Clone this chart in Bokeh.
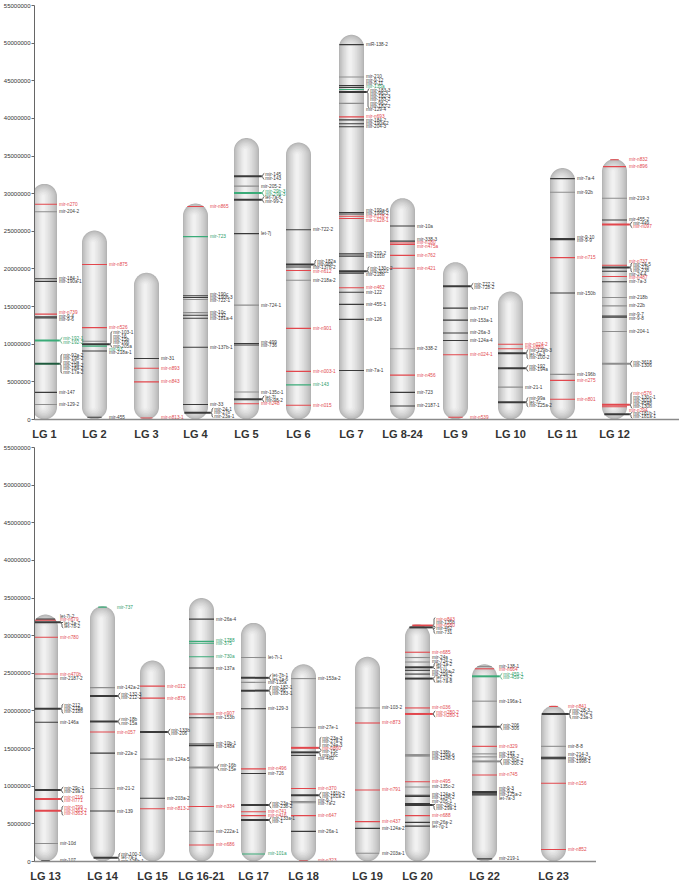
import numpy as np
from bokeh.plotting import figure
from bokeh.models import Range1d, FixedTicker, NumeralTickFormatter, ColumnDataSource
from bokeh.layouts import column
from bokeh.embed import file_html
from bokeh.resources import INLINE
from bokeh.core.properties import value

# ---------------- data (positions in Mb) ----------------
TOP_NAMES = ["LG 1", "LG 2", "LG 3", "LG 4", "LG 5", "LG 6", "LG 7", "LG 8-24", "LG 9", "LG 10", "LG 11", "LG 12"]
TOP_LENGTHS = [31.3, 25.1, 19.5, 28.7, 37.4, 36.8, 51.1, 29.4, 20.9, 17.0, 33.4, 34.6]
BOTTOM_NAMES = ["LG 13", "LG 14", "LG 15", "LG 16-21", "LG 17", "LG 18", "LG 19", "LG 20", "LG 22", "LG 23"]
BOTTOM_LENGTHS = [32.8, 33.9, 26.7, 35.0, 31.7, 26.2, 27.2, 31.5, 26.2, 20.7]
Y_TICKS = [0, 5000000, 10000000, 15000000, 20000000, 25000000, 30000000,
           35000000, 40000000, 45000000, 50000000, 55000000]

LG1_POS = [28.6, 27.6, 18.7, 18.35, 14.0, 13.65, 13.5, 10.5, 7.4, 3.6, 2.0]
LG1_COL = ["r", "g", "k", "k", "r", "k", "k", "e", "d", "k", "g"]
LG1_MIR = ["mir-n270", "mir-204-2", "mir-184-1", "mir-190a-1", "mir-n739", "mir-9-4", "mir-9-6",
           "mir-192-1/mir-192-2", "mir-92a-2/mir-19b-2/mir-20a/mir-19a-2/mir-18a-2/mir-17a-2",
           "mir-147", "mir-129-2"]

LG2_POS = [20.6, 12.2, 10.4, 10.0, 9.75, 9.1, 0.3]
LG2_COL = ["r", "r", "g", "k", "e", "k", "k"]
LG2_MIR = ["mir-n875", "mir-n526", "", "mir-103-1/mir-16/mir-15b/mir-16b/mir-205a", "mir-93",
           "mir-218a-1", "mir-455"]

LG3_POS = [8.1, 6.8, 5.0, 0.2]
LG3_COL = ["k", "r", "r", "r"]
LG3_MIR = ["mir-31", "mir-n893", "mir-n843", "mir-n813-1"]

LG4_POS = [28.3, 24.3, 16.45, 16.2, 15.95, 14.2, 13.85, 13.45, 9.6, 2.0, 0.9]
LG4_COL = ["r", "e", "k", "k", "g", "g", "k", "k", "k", "k", "k"]
LG4_MIR = ["mir-n865", "mir-723", "mir-190c", "mir-190b-3", "mir-722-1", "mir-10c", "mir-132",
           "mir-181a-4", "mir-137b-1", "mir-33", "mir-24-1/mir-27b/mir-23a-1"]

LG5_POS = [32.3, 31.0, 30.1, 29.2, 24.7, 15.2, 10.1, 9.9, 3.65, 2.7, 2.1]
LG5_COL = ["k", "g", "e", "k", "k", "g", "k", "k", "g", "k", "r"]
LG5_MIR = ["mir-145/mir-143", "mir-205-2", "mir-29b-3/mir-29a-3", "let-7a-6/mir-99-2", "let-7j",
           "mir-724-1", "mir-499", "mir-736", "mir-135c-1", "let-7l/mir-98-2", "mir-n248"]

LG6_POS = [25.2, 20.6, 20.25, 19.8, 18.5, 12.1, 6.4, 4.6, 1.9]
LG6_COL = ["k", "k", "k", "r", "g", "r", "r", "e", "r"]
LG6_MIR = ["mir-722-2", "mir-182a/mir-96b", "mir-137b-2", "mir-n612", "mir-218a-2", "mir-n901",
           "mir-n003-1", "mir-143", "mir-n015"]

LG7_POS = [49.8, 45.5, 44.35, 44.1, 43.85, 43.5, 42.0, 40.2, 39.8, 39.3, 38.9, 27.5, 27.3, 27.0,
           26.7, 22.0, 21.7, 19.7, 19.45, 17.5, 16.9, 15.3, 13.3, 6.5]
LG7_COL = ["k", "g", "k", "k", "e", "k", "g", "r", "k", "k", "k", "k", "k", "r", "r", "k", "k",
           "k", "k", "r", "k", "k", "k", "k"]
LG7_MIR = ["miR-138-2", "mir-210", "mir-9-12", "mir-9-11", "mir-135a",
           "mir-183-3/mir-96-3/mir-182-3/mir-183-2/mir-96-2/mir-182-2", "mir-129-4", "mir-n693",
           "mir-184-2", "mir-190a-2", "mir-204-3", "mir-199a-6", "mir-199b-2", "mir-n128-2",
           "mir-n128-1", "mir-219-2", "mir-101b", "mir-130c-2/mir-301c", "mir-218b", "mir-n462",
           "mir-122", "mir-455-1", "mir-126", "mir-7a-1"]

LG8_POS = [25.7, 23.7, 23.45, 23.25, 21.8, 20.1, 9.4, 5.9, 3.6, 1.8]
LG8_COL = ["k", "k", "r", "r", "r", "r", "g", "r", "k", "k"]
LG8_MIR = ["mir-10a", "mir-338-3", "mir-n180", "mir-n475a", "mir-n762", "mir-n421", "mir-338-2",
           "mir-n456", "mir-723", "mir-2187-1"]

LG9_POS = [17.7, 14.8, 13.2, 11.5, 10.5, 8.6, 0.3]
LG9_COL = ["k", "k", "k", "k", "k", "r", "r"]
LG9_MIR = ["mir-727-2/mir-728-2", "mir-7147", "mir-153a-1", "mir-26a-3", "mir-124a-4",
           "mir-n024-1", "mir-n539"]

LG10_POS = [10.0, 9.4, 8.8, 6.8, 4.3, 2.3]
LG10_COL = ["r", "r", "k", "k", "g", "k"]
LG10_MIR = ["mir-n024-2", "mir-n889", "mir-129b-3/let-7a-3/mir-100-2", "mir-192/mir-194a",
            "mir-21-1", "mir-99a/let-7c/mir-125a-2"]

LG11_POS = [32.0, 30.2, 24.05, 23.9, 21.5, 16.8, 6.0, 5.2, 2.7]
LG11_COL = ["k", "g", "k", "k", "r", "k", "g", "r", "r"]
LG11_MIR = ["mir-7a-4", "mir-92b", "mir-9-10", "mir-9-9", "mir-n715", "mir-150b", "mir-196b",
            "mir-n275", "mir-n801"]

LG12_POS = [34.5, 33.6, 29.4, 26.5, 25.9, 20.5, 20.2, 19.7, 19.0, 18.3, 16.2, 15.1, 13.75, 13.6,
            11.7, 7.4, 1.95, 1.7, 0.7]
LG12_COL = ["r", "r", "g", "k", "r", "r", "k", "k", "r", "k", "g", "g", "k", "k", "g", "g", "r",
            "r", "k"]
LG12_MIR = ["mir-n832", "mir-n896", "mir-219-3", "mir-455-2", "mir-449/mir-n097", "mir-n737",
            "mir-24-5/mir-27b/mir-23b", "mir-24-4", "mir-n487", "mir-7a-3", "mir-218b", "mir-22b",
            "mir-9-7", "mir-9-8", "mir-204-1", "mir-3618/mir-1306",
            "mir-n576/mir-130c-1/mir-301a/mir-454b/mir-130b", "mir-n294", "mir-181b-1/mir-181a-1"]

LG13_POS = [32.2, 32.05, 31.8, 29.8, 24.9, 24.3, 20.3, 18.5, 9.5, 8.3, 6.75, 2.4, 0.1]
LG13_COL = ["k", "r", "k", "r", "r", "g", "k", "k", "k", "r", "r", "g", "k"]
LG13_MIR = ["let-7i-2", "mir-n679", "let-7a-7/let-7b-2", "mir-n780", "mir-n470b", "mir-2187-2",
            "mir-212/mir-218a/mir-218b", "mir-146a", "mir-29c-1/mir-29a-1", "mir-n216/mir-n771",
            "mir-n799/mir-n363-2/mir-n363-1", "mir-10d", "mir-107"]

LG14_POS = [33.8, 23.1, 22.0, 18.6, 17.2, 14.4, 9.7, 6.7, 0.5]
LG14_COL = ["e", "g", "k", "k", "r", "k", "g", "k", "k"]
LG14_MIR = ["mir-737", "mir-142a-2", "mir-132-3/mir-212-2", "mir-18b/mir-15a", "mir-n057",
            "mir-22a-2", "mir-21-2", "mir-139", "mir-100-1/let-7a-1/mir-125b-1"]

LG15_POS = [23.3, 21.7, 17.2, 13.6, 8.4, 7.0]
LG15_COL = ["r", "r", "k", "g", "k", "r"]
LG15_MIR = ["mir-n012", "mir-n876", "mir-133b/mir-206", "mir-124a-5", "mir-203a-2", "mir-n813-2"]

LG16_POS = [32.2, 29.25, 29.0, 27.2, 25.7, 19.6, 19.1, 15.6, 15.4, 12.5, 7.3, 4.0, 2.2]
LG16_COL = ["k", "e", "e", "e", "k", "r", "k", "k", "k", "g", "r", "g", "r"]
LG16_MIR = ["mir-26a-4", "mir-1788", "mir-375", "mir-730a", "mir-137a", "mir-n907", "mir-153b",
            "mir-10b-1", "mir-148a", "mir-16b/mir-15e", "mir-n334", "mir-222a-1", "mir-n686"]

LG17_POS = [27.1, 24.4, 23.8, 22.7, 20.3, 12.3, 11.7, 7.5, 6.6, 6.1, 5.5, 1.0]
LG17_COL = ["g", "k", "g", "k", "k", "r", "k", "k", "r", "r", "k", "e"]
LG17_MIR = ["let-7i-1", "let-7b-1/let-7a-6", "mir-135a", "mir-182-1/mir-96/mir-183-1", "mir-129-3",
            "mir-n496", "mir-726", "mir-23a-2/mir-23b-2", "mir-n741", "mir-n416",
            "mir-133a-1/mir-1", "mir-101a"]

LG18_POS = [24.3, 17.8, 15.1, 14.5, 14.1, 9.7, 8.8, 7.95, 7.8, 6.1, 4.0, 0.1]
LG18_COL = ["g", "g", "r", "k", "k", "r", "k", "g", "g", "r", "k", "r"]
LG18_MIR = ["mir-153a-2", "mir-27e-1", "mir-23a-3/mir-27a-2/mir-24a-3/mir-n860", "mir-15c/mir-16c",
            "mir-460", "mir-n370", "mir-181b-2/mir-181a-2", "mir-9-1", "mir-7a-2", "mir-n647",
            "mir-26a-1", "mir-n323"]

LG19_POS = [20.4, 18.4, 9.5, 5.3, 4.4, 1.1]
LG19_COL = ["g", "r", "r", "r", "k", "g"]
LG19_MIR = ["mir-103-2", "mir-n873", "mir-n791", "mir-n437", "mir-124a-2", "mir-203a-1"]

LG20_POS = [31.35, 31.1, 27.8, 27.1, 26.5, 25.8, 25.4, 24.9, 24.3, 20.4, 19.6, 14.2, 14.1, 14.0,
            10.6, 9.9, 8.8, 8.65, 7.7, 7.5, 6.1, 5.2, 4.7]
LG20_COL = ["r", "k", "r", "g", "g", "k", "k", "k", "k", "r", "r", "g", "g", "g", "r", "g", "k",
            "k", "k", "k", "r", "k", "k"]
LG20_MIR = ["mir-n843/mir-135b/mir-n580", "mir-462/mir-731", "mir-n685", "mir-24a", "mir-724-2",
            "let-7a-2/let-7i", "mir-106a-2", "mir-20a-2", "let-7g-2/let-7a-8", "mir-n036",
            "mir-n280-2/mir-n280-1", "mir-138b", "mir-124a-6", "mir-124b-3", "mir-n495",
            "mir-135c-2", "mir-124a-3", "mir-124b-2", "mir-205-1", "mir-29b-1/mir-29a-1",
            "mir-n688", "mir-26a-2", "let-7g-1"]

LG22_POS = [25.9, 25.6, 24.6, 21.3, 17.9, 15.3, 14.3, 13.9, 13.3, 11.5, 9.3, 9.15, 9.0, 8.85, 0.35]
LG22_COL = ["g", "r", "e", "g", "k", "r", "g", "g", "g", "r", "k", "k", "k", "k", "k"]
LG22_MIR = ["mir-138-1", "mir-n664", "mir-459-1/mir-459-2", "mir-196a-1", "mir-206/mir-306",
            "mir-n329", "mir-187", "mir-138-2", "mir-30e-2/mir-30c-2", "mir-n745", "mir-9-3",
            "mir-9-2", "mir-125a-2", "let-7a-3", "mir-219-1"]

LG23_POS = [20.6, 19.6, 15.3, 13.85, 13.75, 13.65, 10.4, 1.6]
LG23_COL = ["r", "k", "g", "k", "k", "k", "r", "r"]
LG23_MIR = ["mir-n841", "mir-28-3/mir-27e-2/mir-23a-3", "mir-8-8", "mir-214-3", "mir-199a-3",
            "mir-199b-1", "mir-n156", "mir-n852"]

TOP_LOCI = [(LG1_POS, LG1_COL, LG1_MIR), (LG2_POS, LG2_COL, LG2_MIR), (LG3_POS, LG3_COL, LG3_MIR),
            (LG4_POS, LG4_COL, LG4_MIR), (LG5_POS, LG5_COL, LG5_MIR), (LG6_POS, LG6_COL, LG6_MIR),
            (LG7_POS, LG7_COL, LG7_MIR), (LG8_POS, LG8_COL, LG8_MIR), (LG9_POS, LG9_COL, LG9_MIR),
            (LG10_POS, LG10_COL, LG10_MIR), (LG11_POS, LG11_COL, LG11_MIR),
            (LG12_POS, LG12_COL, LG12_MIR)]
BOTTOM_LOCI = [(LG13_POS, LG13_COL, LG13_MIR), (LG14_POS, LG14_COL, LG14_MIR),
               (LG15_POS, LG15_COL, LG15_MIR), (LG16_POS, LG16_COL, LG16_MIR),
               (LG17_POS, LG17_COL, LG17_MIR), (LG18_POS, LG18_COL, LG18_MIR),
               (LG19_POS, LG19_COL, LG19_MIR), (LG20_POS, LG20_COL, LG20_MIR),
               (LG22_POS, LG22_COL, LG22_MIR), (LG23_POS, LG23_COL, LG23_MIR)]

# ---------------- layout / style ----------------
MB = 1e6
YMAX = 55e6
TOP_X = [50, 100, 152, 201, 252, 304, 357, 408, 461, 516, 568, 620]      # page px
BOTTOM_X = [51, 108, 158, 207, 259, 309, 373, 423, 490, 559]
X0 = 40           # page x of frame left
FH = 414          # frame height px
R_PX = 12.5       # chromosome half width px
LH = 3.3          # label line height px
FONT = "Liberation Sans"
LINE_COLORS = {"k": "#3a3a3a", "g": "#8d8d8d", "r": "#e2474d", "e": "#3aab78", "d": "#1f5b3e"}
RED_TXT, GREEN_TXT, DARK_TXT = "#e2474d", "#2e9e6a", "#3a3a3a"
FRACS = [1.0, 0.94, 0.87, 0.79, 0.70, 0.60, 0.49, 0.37, 0.25, 0.13]


def shade(f):
    g = int(round(178 + 70 * (1 - f) ** 0.7))
    return "#%02x%02x%02x" % (g, g, g)


def layout_labels(items):
    # items sorted top->bottom; each has 'c' (desired centre px) and 'h'
    blocks = []
    for it in items:
        blocks.append([it])
        while True:
            b = blocks[-1]
            offs, acc = [], 0.0
            for x in b:
                offs.append(acc + x["h"] / 2)
                acc += x["h"]
            T = float(np.mean([x["c"] + o for x, o in zip(b, offs)]))
            for x, o in zip(b, offs):
                x["top"] = T - o + x["h"] / 2
            if len(blocks) > 1:
                pb = blocks[-2]
                pbottom = pb[-1]["top"] - pb[-1]["h"]
                if T > pbottom - 0.2:
                    blocks[-2] = pb + b
                    blocks.pop()
                    continue
            break
    return items


def build_panel(names, lengths, centers, loci, x_end):
    fw = x_end - X0
    p = figure(frame_width=fw, frame_height=FH, x_range=Range1d(X0, x_end),
               y_range=Range1d(0, YMAX), output_backend="svg", toolbar_location=None,
               min_border_left=32, min_border_right=0, min_border_top=5, min_border_bottom=0)
    p.outline_line_color = None
    p.grid.visible = False
    p.background_fill_color = "white"

    ppu = FH / YMAX
    Rv = R_PX / ppu

    # chromosomes (nested shaded capsules)
    xs, ys, fills = [], [], []
    for xc, L in zip(centers, lengths):
        Lb = L * MB
        for f in FRACS:
            cx = xc - 1.5 * (1 - f)
            hw, rv = R_PX * f, Rv * f
            t1 = np.linspace(0, np.pi, 30)
            t2 = np.linspace(np.pi, 2 * np.pi, 30)
            px = np.concatenate([cx + hw * np.cos(t1), cx + hw * np.cos(t2)])
            py = np.concatenate([(Lb - Rv) + rv * np.sin(t1), Rv + rv * np.sin(t2)])
            xs.append(list(px)); ys.append(list(py)); fills.append(shade(f))
    p.patches(xs, ys, fill_color=fills, line_color=None)

    seg = dict(x0=[], x1=[], y=[], c=[], w=[])
    txt = dict(x=[], y=[], t=[], c=[])
    br_xs, br_ys, br_c = [], [], []

    for xc, L, (pos, cols, mirs) in zip(centers, lengths, loci):
        Lb = L * MB
        items = []
        for v_mb, ck, m in zip(pos, cols, mirs):
            v = v_mb * MB
            if v > Lb - Rv:
                d = (v - (Lb - Rv)) / Rv
            elif v < Rv:
                d = (Rv - v) / Rv
            else:
                d = 0.0
            hw = R_PX * np.sqrt(max(0.0, 1 - d * d))
            nms = m.split("/") if m else []
            xb = xc + R_PX + 4
            if len(nms) > 1:
                seg["x0"].append(xc - hw); seg["x1"].append(xb - 1.2); seg["w"].append(2.0)
            else:
                seg["x0"].append(xc - hw); seg["x1"].append(xc + hw); seg["w"].append(1.1)
            seg["y"].append(v); seg["c"].append(LINE_COLORS[ck])
            if nms:
                items.append(dict(c=v * ppu, h=len(nms) * LH, nms=nms, ck=ck, v=v, xb=xb))
        items.sort(key=lambda d: -d["c"])
        layout_labels(items)
        for it in items:
            top = it["top"]
            multi = len(it["nms"]) > 1
            lx = it["xb"] + 2.3 if multi else xc + R_PX + 2
            for j, nm in enumerate(it["nms"]):
                yc = top - LH * (j + 0.5)
                if nm.startswith("mir-n"):
                    col = RED_TXT
                elif it["ck"] == "e":
                    col = GREEN_TXT
                else:
                    col = DARK_TXT
                txt["x"].append(lx); txt["y"].append(yc / ppu); txt["t"].append(nm); txt["c"].append(col)
            if multi:
                xb = it["xb"]
                bt, bb = top - 0.3, top - it["h"] + 0.3
                tip = min(max(it["c"], bb + 1.2), bt - 1.2)
                bx = [xb + 1.3, xb, xb, xb - 1.2, xb, xb, xb + 1.3]
                by = [bt, bt - 1, tip + 1, tip, tip - 1, bb + 1, bb]
                br_xs.append(bx); br_ys.append([b / ppu for b in by])
                br_c.append(GREEN_TXT if it["ck"] == "e" else "#222222")

    p.segment(x0="x0", y0="y", x1="x1", y1="y", line_color="c", line_width="w",
              source=ColumnDataSource(seg))
    p.multi_line(br_xs, br_ys, line_color=br_c, line_width=0.7)
    p.text(x="x", y="y", text="t", text_color="c", source=ColumnDataSource(txt),
           text_font=value(FONT), text_font_size="4.7px", text_baseline="middle", text_align="left")

    # axes
    yax = p.yaxis[0]
    yax.ticker = FixedTicker(ticks=Y_TICKS)
    yax.formatter = NumeralTickFormatter(format="0")
    yax.major_label_text_font = FONT
    yax.major_label_text_font_size = "6px"
    yax.major_label_text_color = "#333333"
    yax.axis_line_color = "#666666"
    yax.major_tick_line_color = "#666666"
    yax.major_tick_out = 3
    yax.major_tick_in = 0
    yax.minor_tick_line_color = None
    yax.major_label_standoff = 1

    xax = p.xaxis[0]
    xax.ticker = FixedTicker(ticks=centers)
    xax.major_label_overrides = {c: n for c, n in zip(centers, names)}
    xax.major_tick_line_color = None
    xax.minor_tick_line_color = None
    xax.axis_line_color = "#8a8a8a"
    xax.axis_line_width = 1.5
    xax.major_label_text_font = FONT
    xax.major_label_text_font_style = "bold"
    xax.major_label_text_font_size = "11px"
    xax.major_label_text_color = "#333333"
    xax.major_label_standoff = 2
    return p


p_top = build_panel(TOP_NAMES, TOP_LENGTHS, TOP_X, TOP_LOCI, 685)
p_bot = build_panel(BOTTOM_NAMES, BOTTOM_LENGTHS, BOTTOM_X, BOTTOM_LOCI, 602)
layout = column(p_top, p_bot)
open("out.html", "w").write(file_html(layout, INLINE))
